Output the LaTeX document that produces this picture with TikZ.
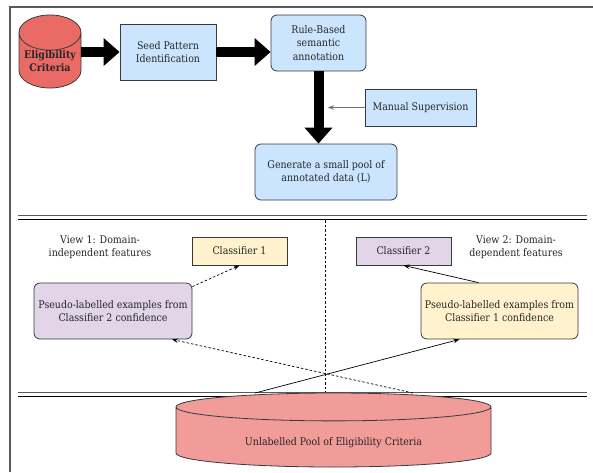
\documentclass[tikz,border=0pt]{standalone}
\usepackage{fontspec}
\setmainfont{DejaVu Serif Condensed}
\usepackage{xcolor}
\usetikzlibrary{shapes.geometric,arrows.meta,calc}

\definecolor{boxblue}{HTML}{CCE5FF}
\definecolor{boxyellow}{HTML}{FFF2CC}
\definecolor{boxpurple}{HTML}{E1D5E7}
\definecolor{dbred}{HTML}{EA6B66}
\definecolor{poolred}{HTML}{F19C99}
\definecolor{edge}{HTML}{36393D}

\begin{document}
\begin{tikzpicture}[
  x=1pt, y=-1pt,
  every node/.style={font=\fontsize{10.5}{13.5}\selectfont, text=black!85, align=center},
  box/.style={draw=edge, line width=0.8pt, inner sep=2pt},
  rbox/.style={box, rounded corners=6pt},
  dbase/.style={draw=edge, line width=0.8pt, cylinder, shape border rotate=90,
    cylinder uses custom fill, anchor=shape center},
  bigarrow/.style={line width=10pt, -{Triangle[width=27pt,length=16pt]}},
  thin/.style={line width=0.7pt, -{Stealth[length=6pt,width=4.5pt]}},
  finedash/.style={dash pattern=on 2.5pt off 2pt},
  sep/.style={line width=0.9pt}
]
\useasboundingbox (0,0) rectangle (593,472);

% frame and separators
\draw[black!65, line width=1.2pt] (10,472) -- (10,7) -- (593,7);
\draw[sep, black!65] (18,215) -- (587,215);
\draw[sep] (18,219.5) -- (587,219.5);
\draw[sep, black!65] (18,392) -- (587,392);
\draw[sep] (18,396.5) -- (587,396.5);
\draw[finedash, line width=0.6pt] (325,220) -- (325,392);

% top pipeline
\node[dbase, cylinder body fill=dbred, cylinder end fill=dbred, aspect=0.8,
  minimum width=62pt, minimum height=73pt] (elig) at (50,51.5) {\phantom{Criteria}};
\node[font=\fontsize{10.5}{12.5}\selectfont\bfseries] (eligtxt) at (50,61) {Eligibility\\Criteria};
\node[box, fill=boxblue, minimum width=96pt, minimum height=56pt] (seed) at (168,52)
  {Seed Pattern\\Identification};
\node[rbox, fill=boxblue, minimum width=95pt, minimum height=56pt] (rule) at (318.5,43)
  {Rule-Based\\semantic\\annotation};
\node[box, fill=boxblue, minimum width=111pt, minimum height=37pt] (man) at (420.5,107.5)
  {Manual Supervision};
\node[rbox, fill=boxblue, minimum width=142pt, minimum height=56pt] (gen) at (326,172)
  {Generate a small pool of\\annotated data (L)};
\coordinate (sup) at (328,107.5);

\draw[bigarrow] (elig.east |- seed.west) -- (seed.west);
\draw[bigarrow] (seed.east) -- (seed.east -| rule.west);
\draw[bigarrow] (rule.south) -- (rule.south |- gen.north);
\draw[thin, black!55] (man.west) -- (sup);

% co-training
\node (view1) at (100,247) {View 1: Domain-\\independent features};
\node (view2) at (516,247) {View 2: Domain-\\dependent features};
\node[box, fill=boxyellow, minimum width=95pt, minimum height=28pt] (cls1) at (239.5,251) {Classifier 1};
\node[box, fill=boxpurple, minimum width=95pt, minimum height=28pt] (cls2) at (403.5,251) {Classifier 2};
\node[rbox, fill=boxpurple, minimum width=158pt, minimum height=56pt] (ps1) at (113,311)
  {Pseudo-labelled examples from\\Classifier 2 confidence};
\node[rbox, fill=boxyellow, minimum width=157pt, minimum height=56pt] (ps2) at (499.5,311)
  {Pseudo-labelled examples from\\Classifier 1 confidence};

\node[dbase, cylinder body fill=poolred, cylinder end fill=poolred, aspect=0.34,
  minimum width=315pt, minimum height=74pt] (pool) at (333.5,430) {\phantom{Unlabelled Pool}};
\node (pooltxt) at (333.5,443) {Unlabelled Pool of Eligibility Criteria};
\coordinate (p1) at (255,393);
\coordinate (p2) at (413,393);

\draw[thin, finedash] ([yshift=-4pt]ps1.north east) -- (cls1.south);
\draw[thin] ([xshift=-21pt]ps2.north) -- (cls2.south);
\draw[thin] (p1) -- ([xshift=-40pt]ps2.south);
\draw[thin, finedash] (p2) -- ([xshift=59pt]ps1.south);
\end{tikzpicture}
\end{document}
